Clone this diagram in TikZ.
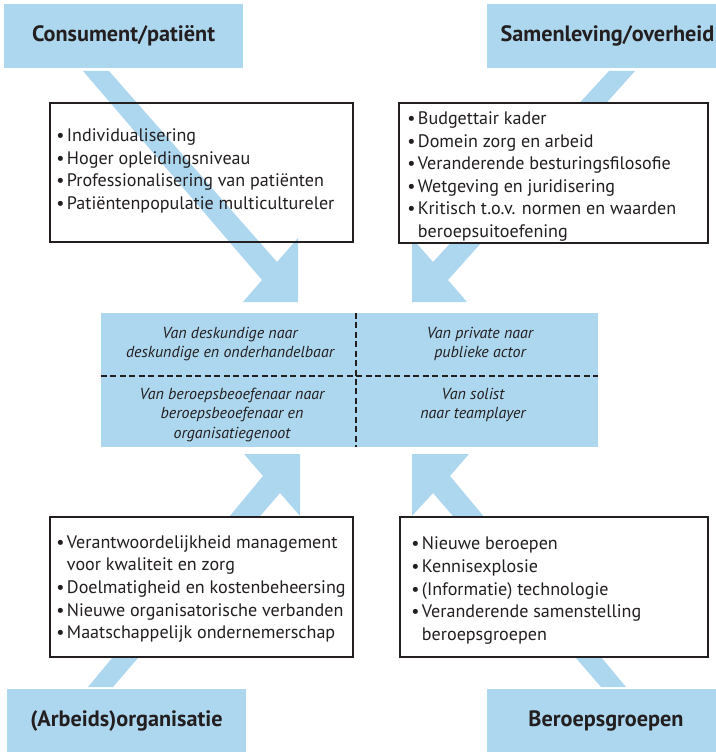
\documentclass[tikz,border=0pt]{standalone}
\usepackage{fontspec}
\setmainfont{PT Sans}
\definecolor{panel}{RGB}{173,215,238}
\definecolor{ink}{RGB}{35,31,32}
\newlength\measw
\newcommand\bul{•\hspace{0.14em}}
\begin{document}
\settowidth\measw{\fontsize{10}{12}\selectfont Professionalisering van patiënten}%
\pgfmathsetmacro\bodysz{1927.5/\measw}%
\settowidth\measw{\fontsize{10}{12}\selectfont\bfseries Consument/patiënt}%
\pgfmathsetmacro\boldsz{1372.5/\measw}%
\settowidth\measw{\fontsize{10}{12}\selectfont\itshape deskundige en onderhandelbaar}%
\pgfmathsetmacro\itsz{1560/\measw}%
\begin{tikzpicture}[x=0.75pt,y=-0.75pt,
  labelbox/.style={fill=panel, draw=none, inner sep=0pt, text=ink, font={\fontsize{\boldsz}{20}\selectfont\bfseries}},
  listbox/.style={draw=ink, line width=1.6pt, inner sep=0pt},
  listtext/.style={align=left, inner sep=0pt, anchor=west, text=ink, font={\fontsize{\bodysz}{16.9}\selectfont}},
  panelbox/.style={fill=panel, draw=none, inner sep=0pt},
  ctext/.style={align=center, inner sep=0pt, text=ink, font={\fontsize{\itsz}{14.3}\selectfont\itshape}},
  divider/.style={draw=ink, line width=1.5pt, dash pattern=on 4.5pt off 2.6pt},
  flow/.style={fill=panel, draw=none}]
\useasboundingbox (0,0) rectangle (716,752);
\clip (0,0) rectangle (716,752);
% source labels
\node[labelbox, minimum width=179.25pt, minimum height=48pt] (consument) at (123.5,36) {Consument/patiënt};
\node[labelbox, minimum width=180.75pt, minimum height=48pt] (samenleving) at (607.5,36) {Samenleving/overheid};
\node[labelbox, minimum width=179.25pt, minimum height=48pt] (organisatie) at (126.5,721) {(Arbeids)organisatie};
\node[labelbox, minimum width=178.5pt, minimum height=48pt] (beroeps) at (606,721) {Beroepsgroepen};
% arrows
\fill[flow] (83,71) -- (109,71) -- (277,262) -- (298,238) -- (298,302) -- (243,302) -- (262,280) -- cycle;
\fill[flow] (609,71) -- (635,71) -- (448,280) -- (467,302) -- (412,302) -- (412,238) -- (433,262) -- cycle;
\fill[flow] (88,687) -- (263,476) -- (244,454) -- (300,454) -- (300,516) -- (280,493) -- (113,687) -- cycle;
\fill[flow] (626,687) -- (450,476) -- (469,454) -- (412,454) -- (412,516) -- (433,493) -- (601,687) -- cycle;
% list boxes
\node[listbox, minimum width=227.25pt, minimum height=104.25pt] (tlbox) at (201.5,172.5) {};
\node[listbox, fill=white, minimum width=231.75pt, minimum height=105pt] (trbox) at (553.5,173) {};
\node[listbox, fill=white, minimum width=227.25pt, minimum height=105pt] (blbox) at (201.5,587) {};
\node[listbox, fill=white, minimum width=231pt, minimum height=105pt] (brbox) at (554,587) {};
\node[listtext] (tltext) at (56,171) {\bul Individualisering\\\bul Hoger opleidingsniveau\\\bul Professionalisering van patiënten\\\bul Patiëntenpopulatie multicultureler};
\node[listtext] (trtext) at (407,176.5) {\bul Budgettair kader\\\bul Domein zorg en arbeid\\\bul Veranderende besturingsfilosofie\\\bul Wetgeving en juridisering\\\bul Kritisch t.o.v. normen en waarden\\\hphantom{\bul}beroepsuitoefening};
\node[listtext] (bltext) at (56,589) {\bul Verantwoordelijkheid management\\\hphantom{\bul}voor kwaliteit en zorg\\\bul Doelmatigheid en kostenbeheersing\\\bul Nieuwe organisatorische verbanden\\\bul Maatschappelijk ondernemerschap};
\node[listtext] (brtext) at (411,590.5) {\bul Nieuwe beroepen\\\bul Kennisexplosie\\\bul (Informatie) technologie\\\bul Veranderende samenstelling\\\hphantom{\bul}beroepsgroepen};
% central panel
\node[panelbox, minimum width=372.75pt, minimum height=100.5pt] (center) at (349.5,380) {};
\draw[divider] (356,0 |- center.north) -- (356,0 |- center.south);
\draw[divider] (center.west |- 0,376) -- (center.east |- 0,376);
\node[ctext] (q1) at (230,344) {Van deskundige naar\\deskundige en onderhandelbaar};
\node[ctext] (q2) at (480,344) {Van private naar\\publieke actor};
\node[ctext] (q3) at (232,415) {Van beroepsbeoefenaar naar\\beroepsbeoefenaar en\\organisatiegenoot};
\node[ctext] (q4) at (473,405) {Van solist\\naar teamplayer};
\end{tikzpicture}
\end{document}
